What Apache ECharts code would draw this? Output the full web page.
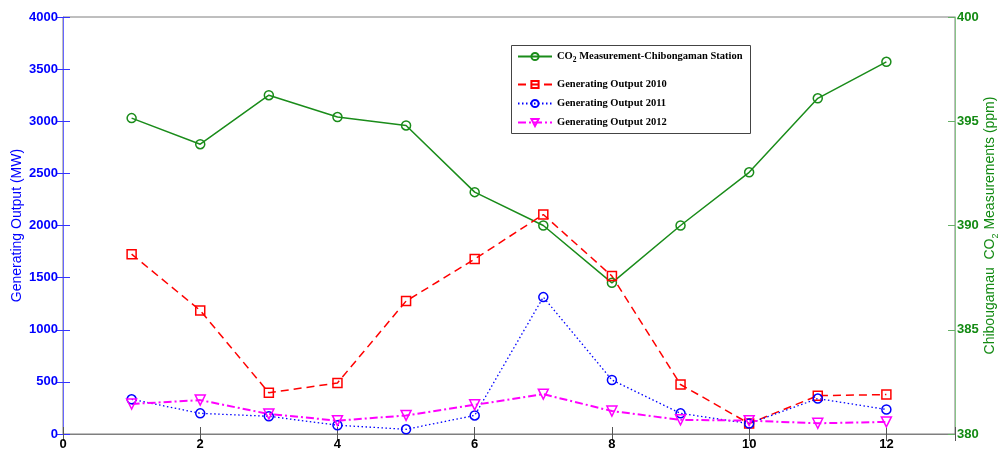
<!DOCTYPE html>
<html>
<head>
<meta charset="utf-8">
<script src="https://cdn.jsdelivr.net/npm/echarts@6/dist/echarts.min.js"></script>
<style>html,body{margin:0;padding:0;background:#fff}#c{width:1000px;height:453px}</style>
</head>
<body>
<div id="c"></div>
<script>
var months = [1,2,3,4,5,6,7,8,9,10,11,12];
var co2 = [395.15,393.9,396.25,395.2,394.8,391.6,390.0,387.25,390.0,392.55,396.1,397.85];
var gen2010 = [1725,1185,395,490,1275,1678,2105,1515,475,100,368,378];
var gen2011 = [333,198,170,84,45,178,1313,518,198,100,340,235];
var gen2012 = [288,325,192,128,178,280,382,220,136,128,103,116];
var xTicks = [0,2,4,6,8,10,12];
var seriesNames = ['CO2 Measurement-Chibongaman Station','Generating Output 2010','Generating Output 2011','Generating Output 2012'];

function pairs(vals){ return months.map(function(m,i){ return [m, vals[i]]; }); }

var chart = echarts.init(document.getElementById('c'), null, {renderer:'canvas'});
var sans = 'Liberation Sans, Arial, sans-serif';
var serif = 'Liberation Serif, Times New Roman, serif';
var axisGray = '#7f7f7f';
var green = '#138a13';

function mk(name, vals, color, yIdx, lineType, width, symbol, size, rot){
  return {
    name: name, type: 'line', yAxisIndex: yIdx, data: pairs(vals),
    symbol: symbol, symbolSize: size, symbolRotate: rot || 0,
    showSymbol: true, animation: false,
    lineStyle: {color: color, width: width, type: lineType},
    itemStyle: {color: 'rgba(255,255,255,0)', borderColor: color, borderWidth: 1.5},
    color: color
  };
}

var legendText = {fontFamily: serif, fontWeight: 'bold', fontSize: 10.5, color: '#000'};

chart.setOption({
  backgroundColor: '#fff',
  animation: false,
  grid: {left: 63, right: 45, top: 17, bottom: 19, containLabel: false, outerBoundsMode: 'none',
    show: true, borderColor: axisGray, borderWidth: 1},
  graphic: [{
    type: 'rect', z: 3, silent: true,
    shape: {x: 511.5, y: 45.5, width: 239, height: 88},
    style: {fill: '#fff', stroke: '#444', lineWidth: 1}
  }],
  legend: [{
    orient: 'vertical', left: 517, top: 51, z: 5,
    padding: 0, itemGap: 0, itemWidth: 34, itemHeight: 9,
    textStyle: {fontFamily: serif, fontWeight: 'bold', fontSize: 10.5, color: '#000',
      rich: {
        a: {fontFamily: serif, fontWeight: 'bold', fontSize: 10.5, color: '#000', lineHeight: 16},
        s: {fontFamily: serif, fontWeight: 'bold', fontSize: 7.5, color: '#000', verticalAlign: 'bottom'}
      }},
    formatter: function(n){ return '{a|CO}{s|2}{a| Measurement-Chibongaman Station}'; },
    data: [seriesNames[0]]
  },{
    orient: 'vertical', left: 517, top: 79, z: 5,
    padding: 0, itemGap: 8, itemWidth: 34, itemHeight: 9,
    textStyle: legendText,
    data: seriesNames.slice(1)
  }],
  xAxis: [{
    type: 'value', min: 0, max: 13, interval: 2,
    axisLine: {show: true, lineStyle: {color: axisGray}},
    axisTick: {show: true, inside: true, length: 7, lineStyle: {color: '#555'}},
    axisLabel: {color: '#000', fontFamily: sans, fontSize: 13, fontWeight: 'bold', margin: 4,
      formatter: function(v){ return xTicks.indexOf(v) >= 0 ? String(v) : ''; }},
    splitLine: {show: false}
  },{
    type: 'value', position: 'top', min: 0, max: 13, interval: 2,
    axisLine: {show: true, lineStyle: {color: axisGray}},
    axisTick: {show: true, inside: true, length: 7, lineStyle: {color: '#555'}},
    axisLabel: {show: false}, splitLine: {show: false}
  }],
  yAxis: [{
    type: 'value', min: 0, max: 4000, interval: 500, position: 'left',
    name: 'Generating Output (MW)', nameLocation: 'middle', nameGap: 39, nameRotate: 90,
    nameMoveOverlap: false,
    nameTextStyle: {color: '#0000ff', fontFamily: sans, fontSize: 14},
    axisLine: {show: true, lineStyle: {color: '#6666ff'}},
    axisTick: {show: true, inside: true, length: 7, lineStyle: {color: '#3333ff'}},
    axisLabel: {color: '#0000ff', fontFamily: sans, fontSize: 13, fontWeight: 'bold', margin: 5,
      formatter: function(v){ return String(v); }},
    splitLine: {show: false}
  },{
    type: 'value', min: 0, max: 4000, interval: 500, position: 'right',
    axisLine: {show: false},
    axisTick: {show: true, inside: true, length: 7, lineStyle: {color: '#3333ff'}},
    axisLabel: {show: false}, splitLine: {show: false}
  },{
    type: 'value', min: 380, max: 400, interval: 5, position: 'right',
    name: '{a|Chibougamau  CO}{s|2}{a| Measurements (ppm)}', nameLocation: 'middle', nameGap: 25, nameRotate: 90,
    nameMoveOverlap: false,
    nameTextStyle: {color: green, fontFamily: sans, fontSize: 14,
      rich: {
        a: {color: green, fontFamily: sans, fontSize: 14, lineHeight: 20},
        s: {color: green, fontFamily: sans, fontSize: 9, verticalAlign: 'bottom'}
      }},
    axisLine: {show: true, lineStyle: {color: '#88c488'}},
    axisTick: {show: true, inside: true, length: 7, lineStyle: {color: '#66b066'}},
    axisLabel: {color: green, fontFamily: sans, fontSize: 13, fontWeight: 'bold', margin: 2},
    splitLine: {show: false}
  }],
  series: [
    mk(seriesNames[0], co2, '#1a8c1a', 2, 'solid', 1.5, 'circle', 9),
    mk(seriesNames[1], gen2010, '#ff0000', 0, [8,5], 1.5, 'rect', 9),
    mk(seriesNames[2], gen2011, '#0000ff', 0, [1.5,2.5], 1.3, 'circle', 9),
    mk(seriesNames[3], gen2012, '#ff00ff', 0, [8,3,2,3], 2, 'triangle', 10, 180)
  ]
});
</script>
</body>
</html>
